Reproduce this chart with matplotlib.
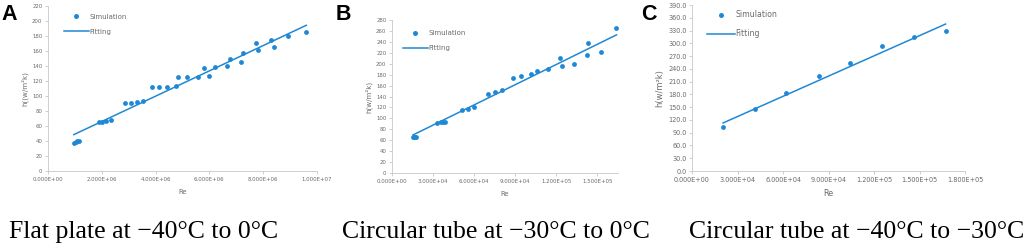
import numpy as np
import matplotlib
matplotlib.use("Agg")
import matplotlib.pyplot as plt
from matplotlib.lines import Line2D

# ---- data ----
# A: flat plate, -40C to 0C
re_a = [0.96e6, 1.03e6, 1.09e6, 1.16e6, 1.89e6, 2.02e6, 2.17e6, 2.35e6,
        2.86e6, 3.08e6, 3.29e6, 3.55e6, 3.85e6, 4.11e6, 4.41e6, 4.76e6,
        4.82e6, 5.16e6, 5.57e6, 5.80e6, 5.98e6, 6.19e6, 6.67e6, 6.76e6,
        7.18e6, 7.24e6, 7.73e6, 7.79e6, 8.30e6, 8.39e6, 8.91e6, 9.60e6]
h_a = [37.8, 39.0, 40.0, 40.4, 65.3, 65.8, 66.7, 68.0,
       90.7, 91.1, 92.0, 93.3, 111.6, 112.4, 112.4, 113.3,
       125.3, 125.8, 125.8, 137.8, 126.7, 138.2, 140.0, 149.8,
       145.8, 156.9, 170.7, 161.3, 175.1, 165.8, 180.0, 185.3]
fit_a = [1.687e-5, 32.3]   # slope, intercept

# B: circular tube, -30C to 0C
re_b = [1.54e4, 1.62e4, 1.70e4, 1.78e4, 3.32e4, 3.59e4, 3.75e4, 3.90e4,
        5.12e4, 5.56e4, 5.98e4, 7.00e4, 7.51e4, 8.05e4, 8.83e4, 9.44e4,
        1.017e5, 1.061e5, 1.141e5, 1.227e5, 1.239e5, 1.332e5, 1.424e5,
        1.432e5, 1.524e5, 1.639e5]
h_b = [65.0, 66.5, 65.5, 66.0, 91.7, 92.9, 93.5, 94.0,
       114.9, 116.7, 121.0, 144.3, 148.5, 151.6, 173.6, 176.7,
       181.5, 185.8, 190.1, 210.3, 195.0, 198.7, 216.4,
       238.4, 220.7, 264.7]
fit_b = [1.233e-3, 50.7]

# C: circular tube, -40C to -30C
re_c = [2.05e4, 4.16e4, 6.23e4, 8.35e4, 1.042e5, 1.253e5, 1.463e5, 1.672e5]
h_c = [102.6, 145.7, 184.0, 222.4, 252.9, 293.7, 314.8, 329.7]
fit_c = [1.584e-3, 80.4]

captions = ["Flat plate at \u221240\u00b0C to 0\u00b0C",
            "Circular tube at \u221230\u00b0C to 0\u00b0C",
            "Circular tube at \u221240\u00b0C to \u221230\u00b0C"]

blue = "#1f88d5"
grey = "#6b6b6b"
axcol = "#c8c8c8"
sans = ["DejaVu Sans"]

W, H = 1031, 248
fig = plt.figure(figsize=(W / 100, H / 100), dpi=100)

def box(l, r, t, b):
    return [l / W, 1 - b / H, (r - l) / W, (b - t) / H]

panels = [
    dict(x=re_a, y=h_a, fit=fit_a, rect=box(48, 317, 6, 171), xlim=1e7, xstep=2e6,
         ylim=220, ystep=20, yfmt="{:.0f}", ylab="h((w/m\u00b2k)", letter="A",
         fs=4.3, lfs=5.0, leg=(0.035, 0.99), cap=144, lx=1),
    dict(x=re_b, y=h_b, fit=fit_b, rect=box(392, 618, 20, 173), xlim=1.65e5, xstep=3e4,
         ylim=280, ystep=20, yfmt="{:.0f}", ylab="h(w/m\u00b2k)", letter="B",
         fs=4.3, lfs=5.0, leg=(0.02, 0.975), cap=496, lx=336),
    dict(x=re_c, y=h_c, fit=fit_c, rect=box(692, 965, 5, 171), xlim=1.8e5, xstep=3e4,
         ylim=390, ystep=30, yfmt="{:.1f}", ylab="h(w/m\u00b2k)", letter="C",
         fs=5.2, lfs=5.6, leg=(0.03, 1.01), cap=857, lx=641),
]

for i, p in enumerate(panels):
    ax = fig.add_axes(p["rect"])
    ax.scatter(p["x"], p["y"], s=12, color=blue, zorder=3, linewidths=0)
    xf = np.array([min(p["x"]), max(p["x"])])
    ax.plot(xf, p["fit"][0] * xf + p["fit"][1], color=blue, lw=1.1)

    ax.set_xlim(0, p["xlim"])
    ax.set_ylim(0, p["ylim"])
    xt = np.arange(0, p["xlim"] + 1, p["xstep"])
    ax.set_xticks(xt)
    ax.set_xticklabels(["{:.3E}".format(v) for v in xt])
    yt = np.arange(0, p["ylim"] + 1, p["ystep"])
    ax.set_yticks(yt)
    ax.set_yticklabels([p["yfmt"].format(v) for v in yt])
    for s in ["top", "right"]:
        ax.spines[s].set_visible(False)
    for s in ["left", "bottom"]:
        ax.spines[s].set_color(axcol)
        ax.spines[s].set_linewidth(0.6)
    ax.tick_params(colors=axcol, labelcolor=grey, labelsize=p["fs"],
                   length=2, width=0.6, pad=2)
    for lab in ax.get_xticklabels() + ax.get_yticklabels():
        lab.set_family(sans)
        lab.set_stretch("condensed")
    ax.set_xlabel("Re", fontsize=p["fs"] + 0.6, color=grey, labelpad=5, family=sans)
    ax.set_ylabel(p["ylab"], fontsize=p["fs"] + 0.8, color=grey, labelpad=3, family=sans)

    handles = [Line2D([], [], ls="none", marker="o", ms=3.6, color=blue, mec="none"),
               Line2D([], [], color=blue, lw=1.1)]
    leg = ax.legend(handles, ["Simulation", "Fitting"], loc="upper left",
                    bbox_to_anchor=p["leg"], frameon=False,
                    handlelength=3.6, handletextpad=0.05, labelspacing=1.3,
                    prop={"family": sans, "size": p["lfs"]})
    for t in leg.get_texts():
        t.set_color(grey)

    fig.text(p["lx"] / W, 1 - 14 / H, p["letter"], fontsize=15.5, fontweight="bold",
             family=["Liberation Sans", "DejaVu Sans"], va="center", ha="left")
    fig.text(p["cap"] / W, 1 - 238 / H, captions[i], fontsize=18.5,
             family=["Liberation Serif", "DejaVu Serif"], va="baseline", ha="center")

fig.savefig("out.png", dpi=100)
